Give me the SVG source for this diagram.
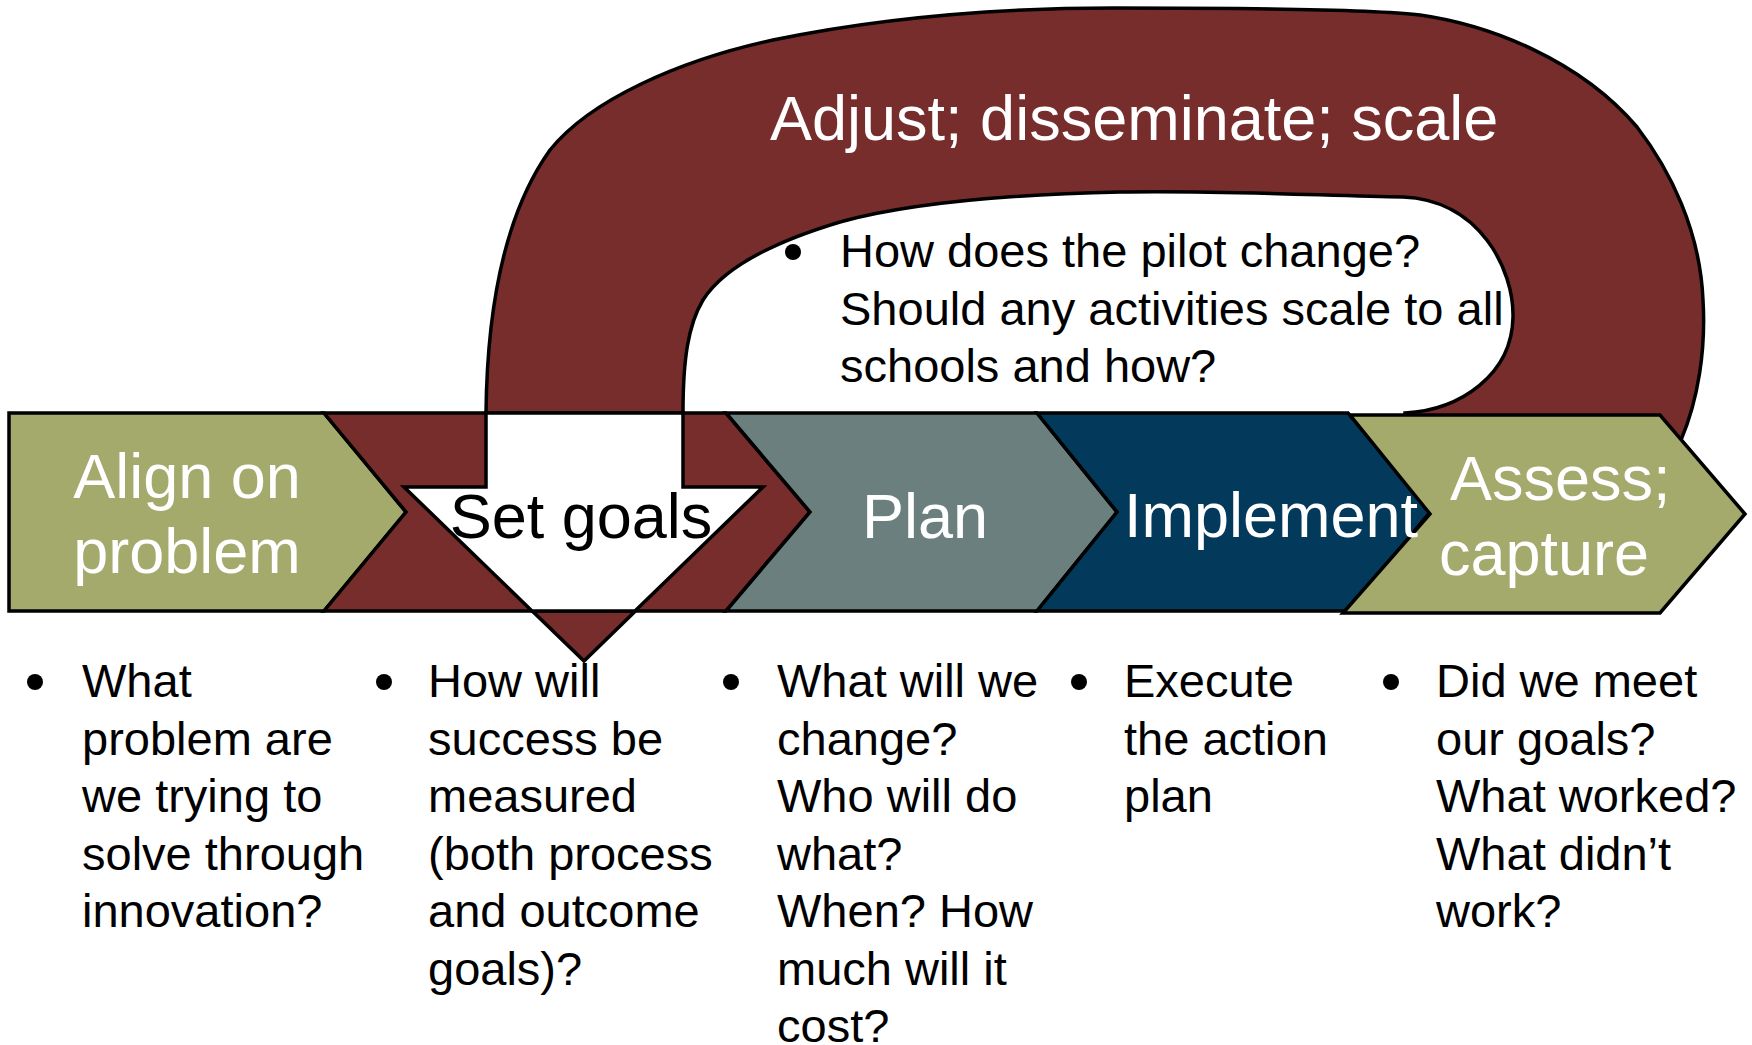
<svg xmlns="http://www.w3.org/2000/svg" width="1752" height="1045" viewBox="0 0 1752 1045">
<style>
  .ol{stroke:#000;stroke-width:3.5;stroke-linejoin:miter}
  .red{fill:#782D2D}
  .olive{fill:#A4A96C}
  .gray{fill:#6C7F7F}
  .navy{fill:#03395A}
  .lbl{font-family:"Liberation Sans",Arial,sans-serif;font-size:63px;fill:#fff}
  .blk{fill:#000}
  .txt{font-family:"Liberation Sans",Arial,sans-serif;font-size:47px;fill:#000}
</style>
<rect width="1752" height="1045" fill="#fff"/>
<g id="connectors">
  <path id="loop-arrow" class="ol red" d="M404,487 L486,487 L486,413 C487,320 500,220 550,150 C590,100 680,60 773,40 C880,18 1000,8 1114,8 C1250,8 1380,10 1420,15 C1490,25 1580,60 1637,127 C1670,170 1700,230 1703,300 C1706,350 1698,400 1681,440 L1680,480 L1405,480 L1405,413 C1460,410 1512,375 1513,317 C1514,270 1480,200 1403,197 C1330,196 1220,190 1120,192 C1030,194 920,200 840,222 C780,240 725,265 703,300 C688,325 683,360 683,413 L683,487 L763,487 L584,661 Z"/>
</g>
<g id="node-align">
  <polygon class="ol olive" points="9,413 324,413 406,512 324,611 9,611"/>
</g>
<g id="node-setgoals">
  <polygon class="ol red" points="324,413 726,413 810,512 726,611 324,611 406,512"/>
</g>
<g id="node-plan">
  <polygon class="ol gray" points="726,413 1037,413 1117,512 1037,611 726,611 810,512"/>
</g>
<g id="node-implement">
  <polygon class="ol navy" points="1037,413 1348,413 1430,512 1348,611 1037,611 1117,512"/>
</g>
<g id="node-assess">
  <polygon class="ol olive" points="1350,415 1660,415 1745,514 1660,613 1343,613 1430,514"/>
</g>
<g id="arrow-head-white">
  <polygon class="ol" fill="#fff" points="486,413 683,413 683,487 763,487 635,611 532,611 404,487 486,487"/>
</g>
<g id="labels">
  <text class="lbl" x="187" y="498" text-anchor="middle">Align on</text>
  <text class="lbl" x="187" y="573" text-anchor="middle">problem</text>
  <text class="lbl blk" x="581" y="538" text-anchor="middle">Set goals</text>
  <text class="lbl" x="925" y="538" text-anchor="middle">Plan</text>
  <text class="lbl" x="1271" y="537" text-anchor="middle">Implement</text>
  <text class="lbl" x="1450" y="500">Assess;</text>
  <text class="lbl" x="1439" y="575">capture</text>
  <text class="lbl" x="770" y="140">Adjust; disseminate; scale</text>
</g>
<g id="node-pilot">
  <circle cx="793" cy="252" r="8"/>
  <text class="txt" x="840" y="267">How does the pilot change?</text>
  <text class="txt" x="840" y="324.5">Should any activities scale to all</text>
  <text class="txt" x="840" y="382">schools and how?</text>
</g>
<g id="bullets">
  <g id="col1">
    <circle cx="35" cy="682" r="8"/>
    <text class="txt" x="82" y="697">What</text>
    <text class="txt" x="82" y="754.5">problem are</text>
    <text class="txt" x="82" y="812">we trying to</text>
    <text class="txt" x="82" y="869.5">solve through</text>
    <text class="txt" x="82" y="927">innovation?</text>
  </g>
  <g id="col2">
    <circle cx="384" cy="682" r="8"/>
    <text class="txt" x="428" y="697">How will</text>
    <text class="txt" x="428" y="754.5">success be</text>
    <text class="txt" x="428" y="812">measured</text>
    <text class="txt" x="428" y="869.5">(both process</text>
    <text class="txt" x="428" y="927">and outcome</text>
    <text class="txt" x="428" y="984.5">goals)?</text>
  </g>
  <g id="col3">
    <circle cx="731" cy="682" r="8"/>
    <text class="txt" x="777" y="697">What will we</text>
    <text class="txt" x="777" y="754.5">change?</text>
    <text class="txt" x="777" y="812">Who will do</text>
    <text class="txt" x="777" y="869.5">what?</text>
    <text class="txt" x="777" y="927">When? How</text>
    <text class="txt" x="777" y="984.5">much will it</text>
    <text class="txt" x="777" y="1042">cost?</text>
  </g>
  <g id="col4">
    <circle cx="1079" cy="682" r="8"/>
    <text class="txt" x="1124" y="697">Execute</text>
    <text class="txt" x="1124" y="754.5">the action</text>
    <text class="txt" x="1124" y="812">plan</text>
  </g>
  <g id="col5">
    <circle cx="1391" cy="682" r="8"/>
    <text class="txt" x="1436" y="697">Did we meet</text>
    <text class="txt" x="1436" y="754.5">our goals?</text>
    <text class="txt" x="1436" y="812">What worked?</text>
    <text class="txt" x="1436" y="869.5">What didn’t</text>
    <text class="txt" x="1436" y="927">work?</text>
  </g>
</g>
</svg>
